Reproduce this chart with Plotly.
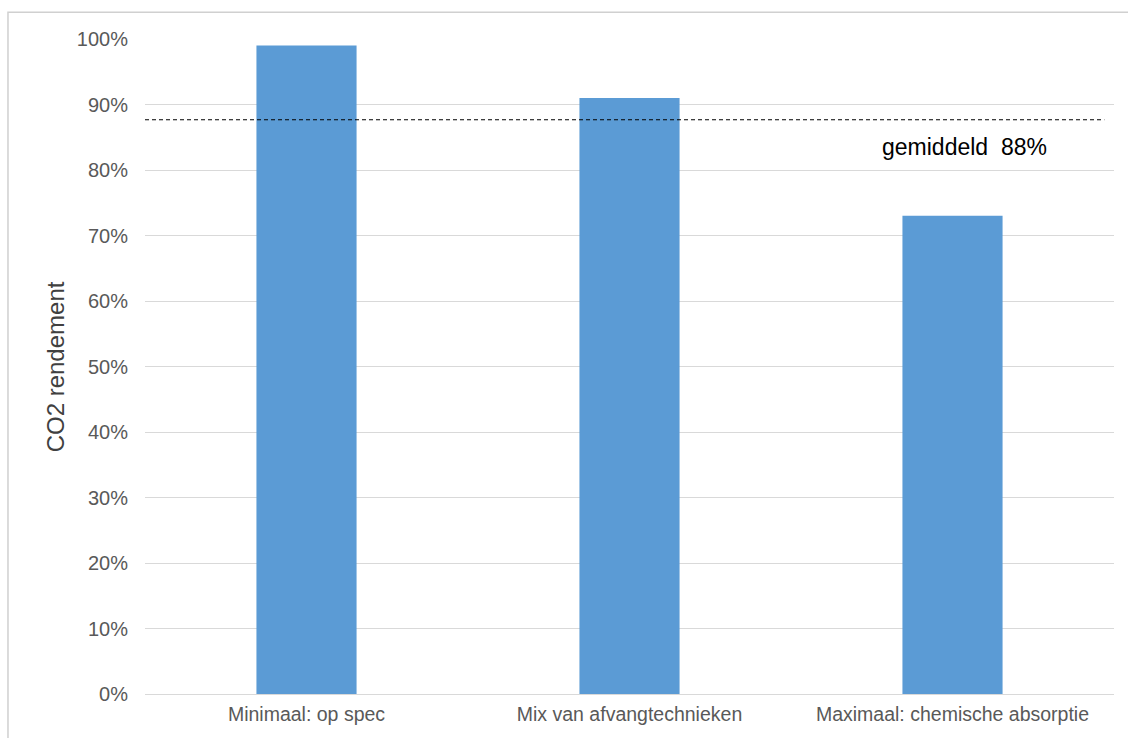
import plotly.graph_objects as go

# CO2-rendement per afvangscenario
scenarios = ["Minimaal: op spec", "Mix van afvangtechnieken", "Maximaal: chemische absorptie"]
rendement = [0.99, 0.91, 0.73]
y_ticks = [i / 10 for i in range(11)]
y_tick_labels = [f"{i * 10}%" for i in range(11)]

gemiddeld = sum(rendement) / len(rendement)

fig = go.Figure()
fig.add_trace(go.Bar(
    x=scenarios,
    y=rendement,
    marker=dict(color="#5B9BD5", line=dict(width=0)),
    width=0.31,
    hoverinfo="skip",
))

# Gemiddelde als gestippelde lijn
fig.add_shape(
    type="line", xref="x domain", yref="y",
    x0=0, x1=0.99, y0=gemiddeld, y1=gemiddeld,
    line=dict(color="#000000", width=1.1, dash="4px,3px"),
    layer="above",
)
fig.add_annotation(
    xref="x domain", yref="y", x=0.846, y=gemiddeld,
    xanchor="center", yanchor="middle",
    yshift=-27, text=f"gemiddeld  {round(gemiddeld * 100)}%",
    showarrow=False, font=dict(size=23, color="#000000"),
)

# As-titel
fig.add_annotation(
    xref="paper", yref="paper", x=-0.092, y=0.5,
    xanchor="center", yanchor="middle",
    text="CO2 rendement", textangle=-90, showarrow=False,
    font=dict(size=24, color="#404040"),
)

# Kader rond de grafiek
fig.add_shape(
    type="rect", xref="paper", yref="paper",
    x0=-0.1414, x1=1.05, y0=-0.1, y1=1.041,
    line=dict(color="#D0D0D0", width=1.5), layer="below",
)

fig.update_layout(
    width=1128, height=738,
    margin=dict(l=145, r=14, t=39, b=44),
    paper_bgcolor="#FFFFFF", plot_bgcolor="#FFFFFF",
    font=dict(family="Liberation Sans, Arial, sans-serif"),
    showlegend=False,
    bargap=0.69,
)
fig.update_xaxes(
    showgrid=False, showline=False, ticks="",
    tickfont=dict(size=19.5, color="#595959"),
    ticklabelstandoff=6,
)
fig.update_yaxes(
    range=[0, 1], tickvals=y_ticks, ticktext=y_tick_labels,
    showgrid=True, gridcolor="#D9D9D9", gridwidth=1.3,
    zeroline=True, zerolinecolor="#D9D9D9", zerolinewidth=1.3,
    showline=False, ticks="",
    tickfont=dict(size=20, color="#595959"),
    ticklabelstandoff=16,
)

fig.write_html("out.html")
